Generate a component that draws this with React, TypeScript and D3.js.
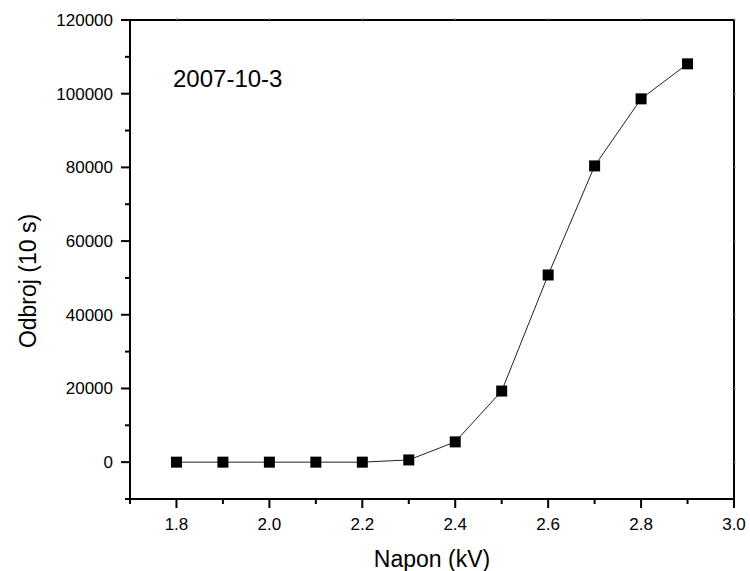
import React from "react";
import * as d3 from "d3";

const voltage = [1.8, 1.9, 2.0, 2.1, 2.2, 2.3, 2.4, 2.5, 2.6, 2.7, 2.8, 2.9];
const counts = [0, 0, 0, 0, 0, 600, 5500, 19300, 50800, 80400, 98600, 108100];
const xTicks = [1.8, 2.0, 2.2, 2.4, 2.6, 2.8, 3.0];
const yTicks = [0, 20000, 40000, 60000, 80000, 100000, 120000];
const xMinor = [1.7, 1.9, 2.1, 2.3, 2.5, 2.7, 2.9];
const yMinor = [-10000, 10000, 30000, 50000, 70000, 90000, 110000];

const W = 750, H = 571;
const L = 130, R = 734, T = 20, B = 499;
const font = "'Liberation Sans', Arial, sans-serif";

export default function App() {
  const x = d3.scaleLinear().domain([1.7, 3.0]).range([L, R]);
  const y = d3.scaleLinear().domain([-10000, 120000]).range([B, T]);
  const line = d3.line<number>().x((_, i) => x(voltage[i])).y((d) => y(d));
  const s = 11;
  return (
    <svg width={W} height={H} style={{ position: "absolute", left: 0, top: 0, background: "#fff" }}>
      <rect x={0} y={0} width={W} height={H} fill="#fff" />
      <path d={line(counts) || ""} fill="none" stroke="#222" strokeWidth={1} />
      {counts.map((c, i) => (
        <rect key={i} x={x(voltage[i]) - s / 2} y={y(c) - s / 2} width={s} height={s} fill="#000" />
      ))}
      {/* axes frame */}
      <rect x={L} y={T} width={R - L} height={B - T} fill="none" stroke="#000" strokeWidth={2} />
      {xTicks.map((t) => (
        <g key={"xt" + t}>
          <line x1={x(t)} x2={x(t)} y1={B} y2={B + 9} stroke="#000" strokeWidth={2} />
          <line x1={x(t)} x2={x(t)} y1={T} y2={T - 2} stroke="#999" strokeWidth={1} />
          <text x={x(t)} y={B + 31} textAnchor="middle" fontFamily={font} fontSize={17} fill="#000">
            {t.toFixed(1)}
          </text>
        </g>
      ))}
      {xMinor.map((t) => (
        <line key={"xm" + t} x1={x(t)} x2={x(t)} y1={B} y2={B + 5} stroke="#000" strokeWidth={2} />
      ))}
      {yTicks.map((t) => (
        <g key={"yt" + t}>
          <line x1={L} x2={L - 9} y1={y(t)} y2={y(t)} stroke="#000" strokeWidth={2} />
          <line x1={R} x2={R + 2} y1={y(t)} y2={y(t)} stroke="#999" strokeWidth={1} />
          <text x={L - 17} y={y(t) + 6} textAnchor="end" fontFamily={font} fontSize={17} fill="#000">
            {t}
          </text>
        </g>
      ))}
      {yMinor.map((t) => (
        <line key={"ym" + t} x1={L} x2={L - 5} y1={y(t)} y2={y(t)} stroke="#000" strokeWidth={2} />
      ))}
      <text x={173} y={87} fontFamily={font} fontSize={24} fill="#000">2007-10-3</text>
      <text x={(L + R) / 2} y={567} textAnchor="middle" fontFamily={font} fontSize={23} fill="#000">
        Napon (kV)
      </text>
      <text
        transform={`translate(36, 281) rotate(-90)`}
        textAnchor="middle"
        fontFamily={font}
        fontSize={23}
        fill="#000"
      >
        Odbroj (10 s)
      </text>
    </svg>
  );
}
